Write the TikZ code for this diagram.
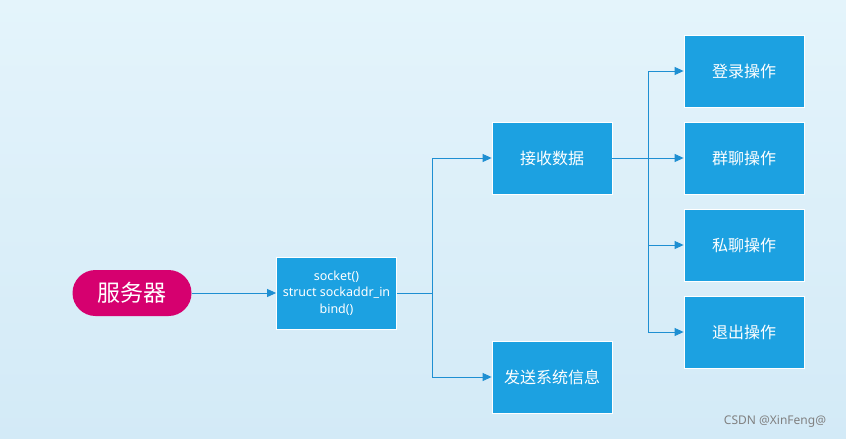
\documentclass[tikz,border=0pt]{standalone}
\usepackage{fontspec}
\setmainfont{Noto Sans}
\newfontfamily\cjk{Noto Sans CJK SC}
\usetikzlibrary{arrows.meta}
\definecolor{figBox}{HTML}{1CA1E1}
\definecolor{figLine}{HTML}{1E8FD2}
\definecolor{figSrv}{HTML}{D6006F}
\definecolor{figBgA}{HTML}{E4F4FB}
\definecolor{figBgB}{HTML}{D3EAF7}

\begin{document}
\begin{tikzpicture}[x=1pt,y=-1pt,>={Triangle[length=9pt,width=8pt]},
  stepbox/.style={draw=white,line width=0.8pt,fill=figBox,text=white,
    minimum width=120pt,minimum height=72pt,inner sep=2pt,font=\cjk\fontsize{16}{19}\selectfont},
  link/.style={figLine,line width=0.9pt}]
\useasboundingbox (0,0) rectangle (846,439);
\shade[shading angle=-30,top color=figBgA,bottom color=figBgB] (0,0) rectangle (846,439);
\node[fill=figSrv,text=white,rounded corners=23pt,minimum width=119pt,minimum height=46pt,
  font=\cjk\fontsize{23}{26}\selectfont] (srv) at (132,293) {服务器};
\node[stepbox,align=center,font=\fontsize{12.5}{16.5}\selectfont] (sock) at (336.5,293)
  {socket()\\struct sockaddr\_in\\bind()};
\node[stepbox] (recv) at (552,158) {接收数据};
\node[stepbox] (send) at (552,377) {发送系统信息};
\node[stepbox] (login) at (744,71) {登录操作};
\node[stepbox] (group) at (744,158) {群聊操作};
\node[stepbox] (priv) at (744,245) {私聊操作};
\node[stepbox] (quit) at (744,332) {退出操作};
\coordinate (j1) at (432,293);
\coordinate (j2) at (648,158);
\draw[->,link] (srv) -- (sock);
\draw[link] (sock) -- (j1);
\draw[->,link] (j1) |- (recv);
\draw[->,link] (j1) |- (send);
\draw[link] (recv) -- (j2);
\foreach \n in {login,group,priv,quit}
  \draw[->,link] (j2) |- (\n);
\node[gray,font=\fontsize{12}{14}\selectfont] (mark) at (775,422) {CSDN @XinFeng@};
\end{tikzpicture}
\end{document}
